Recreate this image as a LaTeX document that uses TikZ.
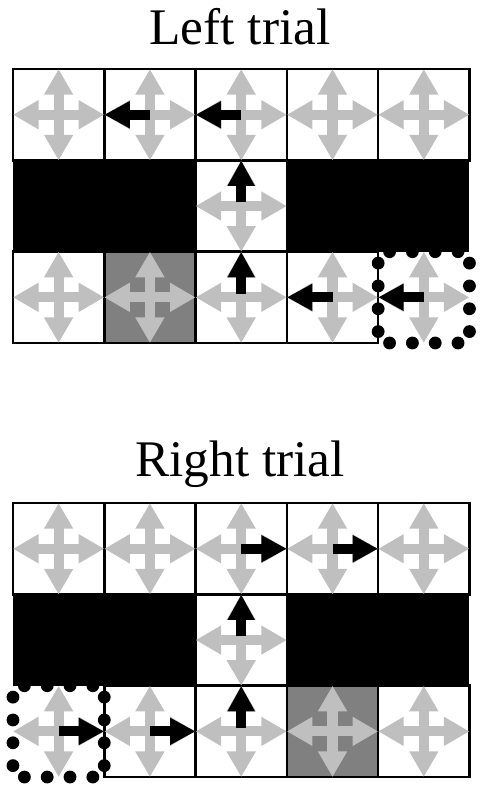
\documentclass[tikz,border=0pt]{standalone}
\usepackage{fontspec}
\setmainfont{Liberation Serif}
\usetikzlibrary{arrows.meta}
\definecolor{lightarrow}{gray}{0.75}
\definecolor{goalgray}{gray}{0.5}
\tikzset{
  cell/.style = {line width=0.8pt},
  greyarrow/.style = {draw=lightarrow, line width=0.11cm,
    >={Triangle[length=0.28cm,width=0.30cm]}, <->},
  blackarrow/.style = {draw=black, line width=0.11cm,
    >={Triangle[length=0.28cm,width=0.28cm]}, ->},
  title/.style = {font=\fontsize{16}{19}\selectfont, anchor=base}
}
\begin{document}
\begin{tikzpicture}
\useasboundingbox (0,0) rectangle (5.257,8.664);
%% titles
\node [title] (lefttitle)  at (2.63,8.18) {Left trial};
\node [title] (righttitle) at (2.63,3.45) {Right trial};
%%
%% left trial
\begin{scope}[xshift = 0.142cm, yshift = 4.907cm]
%% goal
\fill [goalgray] (1,0) rectangle (2,1);
%% cells
\foreach \x in {0,...,4} \draw [cell] (\x,2) rectangle ++(1,1);
\draw [cell] (2,1) rectangle ++(1,1);
\foreach \x in {0,...,3} \draw [cell] (\x,0) rectangle ++(1,1);
%% start (dots)
\foreach \t in {0.125,0.375,0.625,0.875} {
  \draw [fill] (4+\t,0) circle [radius=0.063];
  \draw [fill] (4+\t,1) circle [radius=0.063];
  \draw [fill] (4,\t) circle [radius=0.063];
  \draw [fill] (5,\t) circle [radius=0.063];
}
%% walls
\fill (0,1) rectangle (2,2);
\fill (3,1) rectangle (5,2);
%% grey arrows
\foreach \x/\y in {0/2,1/2,2/2,3/2,4/2,2/1,0/0,1/0,2/0,3/0,4/0} {
  \draw [greyarrow] (\x,\y+0.5) -- ++(1,0);
  \draw [greyarrow] (\x+0.5,\y) -- ++(0,1);
}
%% path
\draw [blackarrow] (1.5,2.5) -- (1,2.5);
\draw [blackarrow] (2.5,2.5) -- (2,2.5);
\draw [blackarrow] (2.5,1.54) -- (2.5,2);
\draw [blackarrow] (2.5,0.54) -- (2.5,1);
\draw [blackarrow] (3.5,0.5) -- (3,0.5);
\draw [blackarrow] (4.5,0.5) -- (4,0.5);
\end{scope}
%%
%% right trial
\begin{scope}[xshift = 0.142cm, yshift = 0.153cm]
%% goal
\fill [goalgray] (3,0) rectangle (4,1);
%% cells
\foreach \x in {0,...,4} \draw [cell] (\x,2) rectangle ++(1,1);
\draw [cell] (2,1) rectangle ++(1,1);
\foreach \x in {1,...,4} \draw [cell] (\x,0) rectangle ++(1,1);
%% start (dots)
\foreach \t in {0.125,0.375,0.625,0.875} {
  \draw [fill] (\t,0) circle [radius=0.063];
  \draw [fill] (\t,1) circle [radius=0.063];
  \draw [fill] (0,\t) circle [radius=0.063];
  \draw [fill] (1,\t) circle [radius=0.063];
}
%% walls
\fill (0,1) rectangle (2,2);
\fill (3,1) rectangle (5,2);
%% grey arrows
\foreach \x/\y in {0/2,1/2,2/2,3/2,4/2,2/1,0/0,1/0,2/0,3/0,4/0} {
  \draw [greyarrow] (\x,\y+0.5) -- ++(1,0);
  \draw [greyarrow] (\x+0.5,\y) -- ++(0,1);
}
%% path
\draw [blackarrow] (0.5,0.5) -- (1,0.5);
\draw [blackarrow] (1.5,0.5) -- (2,0.5);
\draw [blackarrow] (2.5,0.54) -- (2.5,1);
\draw [blackarrow] (2.5,1.54) -- (2.5,2);
\draw [blackarrow] (2.5,2.5) -- (3,2.5);
\draw [blackarrow] (3.5,2.5) -- (4,2.5);
\end{scope}
\end{tikzpicture}
\end{document}
